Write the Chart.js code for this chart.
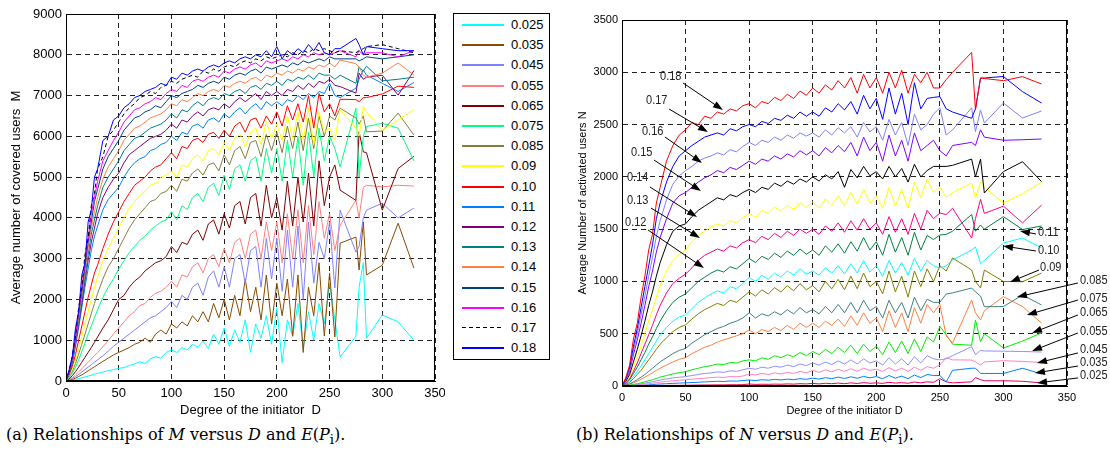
<!DOCTYPE html>
<html>
<head>
<meta charset="utf-8">
<script src="https://cdn.jsdelivr.net/npm/chart.js@4.4.0/dist/chart.umd.min.js"></script>
<style>
body { margin: 0; background: #fff; width: 1110px; height: 454px; position: relative; overflow: hidden; font-family: "Liberation Sans", Arial, sans-serif; }
#left { position: absolute; left: 0; top: 0; }
#right { position: absolute; left: 560px; top: 0; }
#legend { position: absolute; left: 453px; top: 13px; width: 95px; height: 345px; border: 1px solid #000; }
.item { position: absolute; left: 0; width: 95px; height: 20px; font-size: 13px; line-height: 20px; color: #000; }
.item .ln { position: absolute; left: 8px; top: 9px; width: 42px; height: 2px; }
.item .tx { position: absolute; left: 57px; top: 0; }
.cap { position: absolute; top: 425px; font-family: "DejaVu Serif", serif; font-size: 16px; color: #000; white-space: nowrap; }
</style>
</head>
<body>
<canvas id="left" width="445" height="420"></canvas>
<div id="legend"></div>
<canvas id="right" width="550" height="420"></canvas>
<div class="cap" style="left:6px">(a) Relationships of <i>M</i> versus <i>D</i> and <i>E</i>(<i>P</i><sub>i</sub>).</div>
<div class="cap" style="left:576px">(b) Relationships of <i>N</i> versus <i>D</i> and <i>E</i>(<i>P</i><sub>i</sub>).</div>
<script>
// degree of the initiator (x values shared by every curve)
const degrees = [0, 3, 6, 9, 12, 15, 18, 21, 24, 27, 30, 35, 40, 45,
  50, 55, 60, 65, 70, 75, 80, 85, 90, 95,
  100, 105, 110, 115, 120, 125, 130, 135, 140, 145,
  150, 155, 160, 165, 170, 175, 180, 185, 190, 195,
  200, 205, 210, 215, 220, 225, 230, 235, 240, 245,
  250, 255, 260, 275, 278, 282, 285, 300, 315, 330];

const probLabels = ['0.025', '0.035', '0.045', '0.055', '0.065', '0.075', '0.085', '0.09',
  '0.10', '0.11', '0.12', '0.13', '0.14', '0.15', '0.16', '0.17', '0.18'];

// (a) average number of covered users M
const m025 = [0, 10, 20, 40, 60, 80, 100, 120, 140, 170, 190, 220, 250, 280,
  310, 330, 380, 420, 470, 430, 540, 600, 560, 700,
  760, 700, 820, 760, 900, 830, 980, 800, 1150, 900,
  1300, 850, 1250, 950, 1500, 700, 1400, 1050, 1600, 900,
  1800, 450, 1500, 1100, 1900, 800, 1700, 1000, 1900, 1400,
  2400, 1500, 590, 1100, 2300, 2900, 1050, 1620, 1450, 1000];
const m035 = [0, 15, 40, 70, 110, 150, 200, 250, 300, 350, 400, 480, 560, 640,
  700, 760, 820, 900, 950, 1050, 950, 1150, 1250, 1150,
  1400, 1300, 1450, 1350, 1600, 1450, 1700, 1450, 1900, 1550,
  2000, 1500, 2100, 1600, 2500, 1700, 2300, 1500, 2600, 1400,
  2400, 1600, 2500, 1100, 2600, 700, 2300, 1600, 2900, 1100,
  2650, 1080, 3380, 3530, 2720, 3900, 2600, 2840, 3870, 2770];
const m045 = [0, 25, 60, 110, 160, 220, 280, 340, 400, 460, 520, 620, 730, 850,
  950, 1050, 1150, 1250, 1350, 1450, 1550, 1600, 1700, 1800,
  1950, 1800, 2100, 2000, 2300, 2400, 2100, 2550, 2700, 2300,
  2800, 2300, 3000, 3100, 2400, 3200, 3300, 2300, 3500, 2500,
  3500, 2200, 3700, 2300, 3800, 2000, 3900, 2400, 3400, 3000,
  3900, 2280, 4190, 3160, 3300, 4000, 4190, 4360, 4000, 4240];
const m055 = [0, 35, 80, 150, 220, 300, 380, 460, 540, 620, 700, 840, 990, 1150,
  1300, 1450, 1600, 1700, 1850, 1900, 2050, 2150, 2200, 2300,
  2450, 2300, 2600, 2550, 2800, 2900, 2650, 3000, 3100, 2800,
  3250, 2900, 3400, 3500, 3000, 3600, 3700, 3000, 3900, 3200,
  3900, 2900, 4100, 3000, 4200, 2900, 4300, 3100, 4400, 3500,
  4100, 3200, 3820, 4430, 4000, 4750, 4800, 4760, 4800, 4780];
const m065 = [0, 50, 130, 230, 340, 460, 580, 700, 820, 950, 1080, 1300, 1500, 1750,
  2000, 2100, 2300, 2450, 2550, 2700, 2800, 2900, 2950, 3050,
  3300, 3150, 3400, 3350, 3600, 3700, 3450, 3850, 3950, 3600,
  4100, 3750, 4300, 4400, 3850, 4500, 4600, 3800, 4800, 4000,
  4500, 3700, 4900, 3800, 5000, 3900, 5100, 3800, 5400, 4300,
  5000, 5300, 4680, 4430, 6110, 5620, 5600, 4190, 5210, 5510];
const m075 = [0, 80, 190, 340, 520, 720, 930, 1150, 1350, 1550, 1750, 2050, 2300, 2500,
  2750, 2950, 3150, 3300, 3450, 3550, 3700, 3800, 3900, 3950,
  4150, 3950, 4300, 4200, 4500, 4600, 4400, 4750, 4850, 4550,
  5050, 4700, 5200, 5300, 4900, 5400, 5500, 4900, 5700, 5100,
  5700, 4900, 5900, 5000, 6000, 4800, 6100, 5000, 6200, 5400,
  6000, 5700, 5250, 6690, 5000, 6000, 6240, 6320, 6200, 5400];
const m085 = [0, 100, 240, 430, 660, 900, 1150, 1400, 1650, 1900, 2150, 2500, 2800, 3000,
  3250, 3500, 3750, 3950, 4100, 4250, 4400, 4450, 4600, 4650,
  4800, 4650, 4950, 4900, 5100, 5200, 5050, 5300, 5350, 5150,
  5550, 5300, 5650, 5750, 5450, 5850, 5900, 5500, 6050, 5650,
  6100, 5600, 6250, 5700, 6350, 5650, 6450, 5700, 6500, 6000,
  6500, 6400, 6690, 6450, 6300, 6500, 6110, 6130, 6570, 6030];
const m09 = [0, 120, 290, 520, 800, 1100, 1400, 1700, 2000, 2300, 2550, 2950, 3250, 3500,
  3750, 4000, 4250, 4400, 4550, 4650, 4800, 4850, 5000, 5050,
  5150, 5000, 5300, 5250, 5450, 5550, 5400, 5650, 5700, 5550,
  5850, 5650, 5950, 6050, 5750, 6100, 6200, 5800, 6350, 5950,
  6300, 5900, 6500, 5950, 6600, 5900, 6700, 5800, 6600, 6100,
  6200, 5900, 6650, 6200, 6000, 6730, 6600, 6150, 6400, 6650];
const m10 = [0, 150, 360, 650, 1000, 1350, 1700, 2050, 2350, 2650, 2850, 3250, 3600, 3900,
  4150, 4400, 4600, 4800, 4900, 5000, 5150, 5250, 5300, 5450,
  5600, 5450, 5750, 5700, 5900, 5950, 5850, 6050, 6100, 5950,
  6150, 6000, 6250, 6350, 6100, 6400, 6450, 6200, 6500, 6300,
  6600, 6250, 6750, 6400, 6800, 6350, 7000, 6200, 7050, 6600,
  6800, 6500, 6910, 6900, 6850, 6950, 6950, 7040, 7230, 7200];
const m11 = [0, 180, 440, 850, 1300, 1800, 2300, 2750, 3200, 3550, 3800, 4200, 4450, 4600,
  4750, 5000, 5200, 5350, 5450, 5500, 5650, 5700, 5800, 5850,
  6000, 5900, 6100, 6050, 6250, 6300, 6200, 6400, 6450, 6350,
  6550, 6450, 6600, 6700, 6550, 6700, 6800, 6650, 6850, 6750,
  6850, 6750, 6900, 6850, 7000, 6900, 7050, 6950, 7100, 7050,
  7300, 7000, 6950, 7180, 7400, 7630, 7500, 7300, 7100, 7320];
const m12 = [0, 190, 470, 900, 1400, 1900, 2450, 2950, 3400, 3750, 4100, 4500, 4750, 4950,
  5100, 5350, 5550, 5650, 5750, 5850, 5950, 6000, 6050, 6150,
  6300, 6200, 6400, 6350, 6500, 6600, 6500, 6650, 6700, 6650,
  6800, 6700, 6850, 6950, 6850, 6950, 7050, 6900, 7100, 7000,
  7100, 7000, 7150, 7100, 7250, 7150, 7300, 7200, 7350, 7300,
  7400, 7250, 7220, 7060, 7550, 7400, 7450, 7500, 7010, 7610];
const m13 = [0, 200, 500, 950, 1450, 2000, 2550, 3100, 3600, 3950, 4300, 4750, 5000, 5200,
  5400, 5650, 5800, 5950, 6000, 6100, 6200, 6250, 6300, 6400,
  6550, 6450, 6650, 6600, 6750, 6850, 6750, 6900, 6950, 6900,
  7050, 7000, 7100, 7150, 7050, 7200, 7250, 7150, 7300, 7250,
  7350, 7250, 7400, 7350, 7450, 7400, 7500, 7400, 7550, 7500,
  7500, 7400, 7500, 7300, 7700, 7600, 7720, 7360, 7400, 7450];
const m14 = [0, 220, 540, 1000, 1550, 2100, 2700, 3250, 3750, 4150, 4500, 4950, 5250, 5450,
  5650, 5900, 6050, 6200, 6250, 6350, 6450, 6500, 6550, 6650,
  6800, 6750, 6900, 6850, 6950, 7050, 7000, 7100, 7150, 7100,
  7250, 7200, 7300, 7350, 7300, 7400, 7450, 7350, 7500, 7450,
  7550, 7500, 7600, 7550, 7650, 7600, 7700, 7650, 7750, 7700,
  7800, 7700, 7870, 7780, 7700, 7500, 7450, 7550, 7800, 7500];
const m15 = [0, 230, 560, 1050, 1650, 2200, 2800, 3400, 3900, 4400, 4700, 5200, 5500, 5700,
  5900, 6150, 6300, 6450, 6500, 6600, 6650, 6750, 6700, 6850,
  7000, 6950, 7050, 7100, 7150, 7250, 7200, 7300, 7350, 7300,
  7450, 7400, 7500, 7550, 7500, 7600, 7650, 7550, 7700, 7650,
  7700, 7750, 7700, 7800, 7750, 7850, 7800, 7850, 7900, 7850,
  7950, 7900, 7900, 7900, 7850, 7900, 7950, 7900, 7950, 8000];
const m16 = [0, 240, 580, 1100, 1700, 2300, 2900, 3500, 4100, 4500, 4900, 5400, 5650, 5900,
  6100, 6350, 6500, 6650, 6700, 6800, 6850, 6950, 6900, 7050,
  7150, 7100, 7250, 7200, 7350, 7400, 7350, 7450, 7500, 7450,
  7600, 7550, 7650, 7700, 7650, 7750, 7800, 7700, 7850, 7800,
  7850, 7900, 7850, 7950, 7900, 8000, 7950, 8050, 8000, 8050,
  8000, 8050, 8100, 7950, 8100, 8000, 8050, 8050, 7950, 8100];
const m17 = [0, 250, 620, 1100, 1800, 2300, 3100, 3500, 4300, 4600, 5200, 5500, 6000, 6150,
  6350, 6550, 6700, 6800, 6950, 7000, 7100, 7050, 7200, 7250,
  7350, 7300, 7400, 7450, 7500, 7450, 7600, 7550, 7650, 7600,
  7700, 7750, 7700, 7800, 7850, 7800, 7900, 7850, 7950, 7900,
  7950, 8000, 7950, 8050, 8000, 8100, 8050, 8150, 8100, 8150,
  8100, 8050, 8100, 8050, 8100, 8150, 8200, 8250, 8150, 8050];
const m18 = [0, 280, 600, 1300, 1700, 2600, 2900, 3900, 4200, 5000, 5200, 5900, 6000, 6400,
  6500, 6700, 6800, 6950, 7000, 7100, 7150, 7200, 7300, 7250,
  7450, 7400, 7550, 7500, 7600, 7650, 7600, 7700, 7750, 7700,
  7800, 7850, 7800, 7900, 7950, 7900, 8000, 7950, 8100, 7950,
  8200, 7900, 8100, 8000, 8150, 8050, 8250, 8100, 8300, 8050,
  8000, 8150, 8150, 8400, 8250, 8000, 8200, 8150, 8100, 8100];

// (b) average number of activated users N
const n025 = [0, 0, 1, 1, 2, 2, 3, 3, 4, 4, 5, 5, 6, 6,
  7, 8, 9, 10, 10, 11, 11, 12, 12, 13,
  19, 15, 17, 16, 18, 17, 20, 18, 22, 20,
  25, 20, 26, 22, 28, 22, 30, 24, 32, 26,
  30, 25, 35, 28, 32, 26, 38, 30, 40, 35,
  70, 40, 30, 40, 80, 60, 50, 50, 45, 30];
const n035 = [0, 1, 2, 3, 5, 7, 9, 11, 14, 17, 19, 22, 25, 28,
  30, 33, 36, 39, 42, 45, 43, 48, 46, 52,
  57, 52, 60, 56, 63, 58, 66, 60, 70, 64,
  75, 66, 80, 70, 85, 72, 88, 74, 92, 78,
  90, 70, 100, 75, 95, 70, 105, 80, 110, 100,
  100, 40, 150, 170, 170, 120, 120, 120, 170, 115];
const n045 = [0, 1, 3, 6, 9, 13, 17, 22, 27, 32, 37, 44, 50, 55,
  60, 65, 70, 75, 80, 85, 82, 90, 88, 95,
  115, 105, 120, 110, 125, 115, 130, 120, 140, 125,
  150, 130, 155, 135, 160, 140, 165, 140, 170, 150,
  160, 140, 175, 145, 170, 140, 180, 150, 185, 170,
  200, 270, 250, 248, 230, 200, 230, 242, 235, 225];
const n055 = [0, 2, 5, 10, 15, 20, 27, 34, 41, 49, 57, 67, 77, 84,
  90, 100, 110, 120, 125, 135, 130, 145, 140, 155,
  170, 160, 180, 170, 190, 180, 200, 185, 210, 195,
  220, 200, 230, 205, 240, 210, 250, 210, 260, 220,
  240, 200, 270, 210, 260, 200, 280, 220, 290, 260,
  250, 260, 290, 376, 300, 340, 335, 333, 330, 325];
const n065 = [0, 4, 8, 15, 22, 30, 40, 50, 60, 72, 85, 100, 115, 128,
  137, 155, 170, 185, 195, 210, 205, 225, 220, 240,
  250, 240, 270, 255, 290, 270, 300, 280, 320, 290,
  330, 300, 350, 310, 370, 320, 390, 310, 400, 330,
  380, 300, 420, 320, 430, 310, 450, 330, 470, 420,
  570, 490, 400, 390, 631, 424, 500, 363, 430, 507];
const n075 = [0, 8, 16, 30, 45, 65, 85, 105, 125, 150, 170, 200, 230, 255,
  270, 310, 340, 370, 390, 420, 440, 460, 480, 500,
  535, 500, 540, 520, 560, 530, 580, 540, 600, 560,
  600, 560, 620, 580, 640, 570, 670, 580, 700, 600,
  650, 520, 720, 560, 700, 520, 750, 600, 780, 700,
  780, 480, 411, 822, 700, 631, 720, 854, 760, 602];
const n085 = [0, 10, 20, 40, 60, 85, 110, 140, 170, 200, 230, 270, 310, 340,
  360, 410, 450, 490, 520, 550, 570, 600, 620, 650,
  700, 650, 690, 670, 710, 680, 730, 690, 750, 700,
  730, 690, 760, 700, 780, 700, 800, 700, 820, 720,
  760, 650, 820, 700, 800, 650, 850, 720, 830, 800,
  800, 880, 890, 937, 900, 860, 758, 760, 870, 775];
const n09 = [0, 15, 35, 70, 110, 150, 200, 250, 300, 350, 400, 460, 520, 560,
  585, 640, 690, 730, 760, 790, 770, 820, 800, 850,
  900, 860, 920, 880, 940, 900, 960, 910, 980, 920,
  960, 900, 1000, 930, 1020, 920, 1050, 930, 1080, 950,
  1000, 880, 1100, 900, 1050, 850, 1100, 950, 1120, 1000,
  1150, 1100, 1224, 1109, 1000, 937, 1109, 1000, 997, 1080];
const n10 = [0, 20, 45, 90, 140, 190, 250, 310, 370, 430, 490, 560, 620, 660,
  680, 740, 800, 840, 880, 910, 890, 950, 930, 980,
  1040, 1000, 1060, 1020, 1080, 1040, 1100, 1060, 1120, 1070,
  1100, 1060, 1130, 1080, 1150, 1070, 1170, 1080, 1200, 1090,
  1150, 1050, 1200, 1080, 1180, 1060, 1220, 1100, 1200, 1150,
  1128, 1150, 1205, 1300, 1330, 1170, 1200, 1367, 1416, 1320];
const n11 = [0, 25, 60, 120, 180, 250, 320, 400, 470, 550, 620, 720, 800, 850,
  880, 940, 1000, 1040, 1080, 1110, 1090, 1140, 1120, 1170,
  1220, 1180, 1240, 1210, 1270, 1230, 1290, 1250, 1310, 1260,
  1300, 1250, 1340, 1280, 1360, 1270, 1380, 1290, 1420, 1300,
  1380, 1250, 1450, 1280, 1420, 1250, 1470, 1300, 1440, 1400,
  1444, 1450, 1480, 1640, 1480, 1540, 1500, 1620, 1496, 1530];
const n12 = [0, 30, 70, 140, 220, 310, 400, 490, 580, 680, 770, 890, 980, 1030,
  1070, 1130, 1200, 1250, 1280, 1310, 1290, 1340, 1320, 1370,
  1400, 1370, 1430, 1400, 1460, 1420, 1480, 1440, 1500, 1460,
  1500, 1450, 1530, 1480, 1560, 1470, 1580, 1490, 1600, 1500,
  1560, 1450, 1620, 1470, 1600, 1450, 1650, 1500, 1680, 1600,
  1654, 1640, 1700, 1415, 1600, 1785, 1650, 1720, 1560, 1730];
const n13 = [0, 40, 90, 180, 280, 390, 500, 620, 730, 850, 960, 1100, 1200, 1260,
  1300, 1380, 1440, 1480, 1520, 1550, 1530, 1580, 1560, 1610,
  1650, 1610, 1680, 1650, 1710, 1670, 1730, 1690, 1750, 1710,
  1760, 1700, 1790, 1730, 1820, 1720, 1850, 1740, 1880, 1750,
  1820, 1700, 1900, 1720, 1880, 1700, 1950, 1800, 1980, 1850,
  1906, 1800, 1850, 1940, 1800, 1950, 1900, 1750, 1840, 1950];
const n14 = [0, 45, 110, 230, 350, 480, 620, 770, 900, 1050, 1180, 1350, 1480, 1530,
  1550, 1620, 1680, 1720, 1760, 1800, 1780, 1830, 1810, 1850,
  1880, 1850, 1900, 1880, 1940, 1910, 1960, 1930, 1980, 1950,
  2000, 1960, 2020, 1980, 2050, 1900, 2070, 1990, 2100, 2010,
  2050, 1980, 2100, 2000, 2080, 1950, 2120, 2000, 2060, 2100,
  2100, 2100, 2110, 2170, 2000, 2170, 1846, 2050, 2145, 1954];
const n15 = [0, 55, 140, 300, 440, 600, 770, 950, 1100, 1280, 1420, 1600, 1750, 1820,
  1850, 1900, 1950, 1990, 2020, 2060, 2040, 2090, 2070, 2110,
  2150, 2120, 2170, 2150, 2200, 2170, 2220, 2190, 2250, 2210,
  2250, 2200, 2280, 2230, 2300, 2240, 2330, 2200, 2380, 2250,
  2330, 2150, 2400, 2200, 2350, 2150, 2420, 2250, 2300, 2350,
  2250, 2200, 2300, 2330, 2300, 2450, 2380, 2350, 2355, 2362];
const n16 = [0, 60, 160, 340, 500, 680, 860, 1050, 1230, 1430, 1580, 1780, 1930, 2010,
  2060, 2100, 2150, 2180, 2200, 2230, 2210, 2260, 2240, 2290,
  2330, 2300, 2350, 2330, 2380, 2350, 2400, 2370, 2420, 2390,
  2420, 2380, 2450, 2400, 2470, 2420, 2480, 2380, 2520, 2430,
  2480, 2350, 2550, 2400, 2520, 2300, 2600, 2450, 2500, 2600,
  2660, 2400, 2450, 2660, 2432, 2640, 2515, 2706, 2563, 2630];
const n17 = [0, 70, 180, 380, 550, 750, 950, 1150, 1350, 1600, 1750, 1950, 2100, 2200,
  2250, 2300, 2340, 2380, 2400, 2420, 2400, 2460, 2440, 2480,
  2500, 2480, 2530, 2510, 2560, 2540, 2590, 2560, 2620, 2580,
  2620, 2580, 2660, 2620, 2700, 2640, 2720, 2600, 2780, 2650,
  2750, 2550, 2850, 2600, 2800, 2500, 2900, 2650, 2750, 2760,
  2767, 2650, 2620, 2560, 2650, 2945, 2945, 2960, 2815, 2706];
const n18 = [0, 80, 200, 450, 600, 850, 1050, 1300, 1450, 1750, 1900, 2150, 2300, 2400,
  2450, 2520, 2500, 2580, 2560, 2620, 2600, 2650, 2630, 2680,
  2700, 2660, 2720, 2700, 2760, 2730, 2790, 2750, 2820, 2780,
  2850, 2800, 2880, 2830, 2920, 2850, 2950, 2800, 2980, 2850,
  2950, 2800, 3000, 2850, 3020, 2800, 2980, 2900, 3000, 2850,
  2850, 2930, 3000, 3190, 2640, 2945, 2940, 2920, 2958, 2888];

const coveredSeries = [m025, m035, m045, m055, m065, m075, m085, m09, m10, m11, m12, m13, m14, m15, m16, m17, m18];
const activatedSeries = [n025, n035, n045, n055, n065, n075, n085, n09, n10, n11, n12, n13, n14, n15, n16, n17, n18];

const coveredColors = ['#00ffff', '#8b4a00', '#8080ff', '#ff8080', '#800000', '#00ff80', '#808040', '#ffff00',
  '#ff0000', '#0080ff', '#800080', '#008080', '#ff8040', '#004080', '#ff00ff', '#000000', '#0000ff'];
const activatedColors = ['#e6005c', '#0080ff', '#ff80c0', '#9090ff', '#00ee00', '#ff8040', '#408080', '#808000',
  '#00ffff', '#008040', '#ff0080', '#ffff00', '#000000', '#8000ff', '#8080ff', '#0000ff', '#ff0000'];

// arrow notes of panel (b): label anchor, arrow start, arrow tip (data units)
const arrowNotes = [
  { text: '0.18', at: [29.9, 2964], from: [48.0, 2898], to: [79.4, 2639] },
  { text: '0.17', at: [18.9, 2725], from: [37.0, 2649], to: [67.6, 2429] },
  { text: '0.16', at: [15.7, 2429], from: [33.8, 2381], to: [62.9, 2133] },
  { text: '0.15', at: [7.1, 2228], from: [25.2, 2161], to: [62.1, 1865] },
  { text: '0.14', at: [3.9, 1989], from: [22.0, 1903], to: [59.0, 1616] },
  { text: '0.13', at: [3.9, 1769], from: [22.8, 1702], to: [61.3, 1415] },
  { text: '0.12', at: [2.4, 1559], from: [20.4, 1492], to: [64.5, 1128] },
  { text: '0.11', at: [327.2, 1463], from: [325.6, 1454], to: [313.0, 1482] },
  { text: '0.10', at: [327.2, 1291], from: [325.6, 1291], to: [299.7, 1339] },
  { text: '0.09', at: [328.8, 1128], from: [328.0, 1109], to: [305.2, 995] },
  { text: '0.085', at: [360.2, 1004], from: [358.6, 985], to: [310.7, 851] },
  { text: '0.075', at: [360.2, 832], from: [358.6, 822], to: [318.5, 679] },
  { text: '0.065', at: [360.2, 698], from: [358.6, 679], to: [322.5, 507] },
  { text: '0.055', at: [360.2, 516], from: [358.6, 507], to: [322.5, 335] },
  { text: '0.045', at: [360.2, 344], from: [358.6, 316], to: [326.4, 220] },
  { text: '0.035', at: [360.2, 220], from: [358.6, 191], to: [324.8, 124] },
  { text: '0.025', at: [360.2, 96], from: [358.6, 77], to: [326.4, 29] }
];

function makeDatasets(series, colors, dashedIndex) {
  let sets = series.map((vals, i) => ({
    label: probLabels[i],
    data: vals.map((v, k) => ({ x: degrees[k], y: v })),
    borderColor: colors[i],
    borderWidth: 1,
    borderDash: i === dashedIndex ? [4, 3] : [],
    pointRadius: 0,
    tension: 0,
    fill: false
  }));
  return sets.reverse();
}

const boxPlugin = {
  id: 'box',
  afterDraw(chart) {
    const a = chart.chartArea, c = chart.ctx;
    c.save();
    c.strokeStyle = '#000';
    c.lineWidth = 1;
    c.setLineDash([]);
    c.strokeRect(Math.round(a.left) + 0.5, Math.round(a.top) + 0.5,
      Math.round(a.right - a.left) - 1, Math.round(a.bottom - a.top) - 1);
    c.restore();
  }
};

const arrowPlugin = {
  id: 'arrows',
  afterDraw(chart) {
    const xs = chart.scales.x, ys = chart.scales.y, c = chart.ctx;
    c.save();
    c.strokeStyle = '#000';
    c.fillStyle = '#000';
    c.lineWidth = 1;
    arrowNotes.forEach(a => {
      const x1 = xs.getPixelForValue(a.from[0]), y1 = ys.getPixelForValue(a.from[1]);
      const x2 = xs.getPixelForValue(a.to[0]), y2 = ys.getPixelForValue(a.to[1]);
      const ang = Math.atan2(y2 - y1, x2 - x1);
      const cs = Math.cos(ang), sn = Math.sin(ang);
      c.beginPath();
      c.moveTo(x1, y1);
      c.lineTo(x2 - 6 * cs, y2 - 6 * sn);
      c.stroke();
      c.beginPath();
      c.moveTo(x2, y2);
      c.lineTo(x2 - 10 * cs + 3.5 * sn, y2 - 10 * sn - 3.5 * cs);
      c.lineTo(x2 - 10 * cs - 3.5 * sn, y2 - 10 * sn + 3.5 * cs);
      c.closePath();
      c.fill();
      // narrow label text
      c.save();
      c.translate(xs.getPixelForValue(a.at[0]), ys.getPixelForValue(a.at[1]));
      c.scale(0.88, 1);
      c.font = '12.5px "Liberation Sans", Arial';
      c.textBaseline = 'middle';
      c.textAlign = 'left';
      c.fillStyle = '#222';
      c.fillText(a.text, 0, 0);
      c.restore();
    });
    c.restore();
  }
};

function axes(yMax, yStep, xTitle, yTitle, size, yWidth, xHeight, yTitlePad, xTitlePad) {
  const font = { family: '"Liberation Sans", Arial, sans-serif', size: size };
  const grid = { color: '#222', lineWidth: 1, drawTicks: false };
  const border = { display: true, color: '#000', width: 1, dash: [5, 4] };
  const plain = v => String(v);
  return {
    x: {
      type: 'linear', min: 0, max: 350,
      ticks: { stepSize: 50, color: '#000', font: font, padding: 5, maxRotation: 0, callback: plain },
      grid: grid, border: border,
      title: { display: true, text: xTitle, color: '#000', font: font, padding: { top: 0, bottom: xTitlePad } },
      afterFit: s => { s.height = xHeight; s.paddingLeft = 0; s.paddingRight = 0; }
    },
    y: {
      type: 'linear', min: 0, max: yMax,
      ticks: { stepSize: yStep, color: '#000', font: font, padding: 4, callback: plain },
      grid: grid, border: border,
      title: { display: true, text: yTitle, color: '#000', font: font, padding: { top: yTitlePad, bottom: 0 } },
      afterFit: s => { s.width = yWidth; s.paddingTop = 0; s.paddingBottom = 0; }
    }
  };
}

new Chart(document.getElementById('left'), {
  type: 'line',
  data: { datasets: makeDatasets(coveredSeries, coveredColors, 15) },
  options: {
    responsive: false, animation: false, devicePixelRatio: 1,
    layout: { padding: { left: 0, top: 14, right: 10, bottom: 0 } },
    plugins: { legend: { display: false }, tooltip: { enabled: false } },
    scales: axes(9000, 1000, 'Degree of the initiator  D', 'Average number of covered users  M', 13, 66, 39, 9, 2)
  },
  plugins: [boxPlugin]
});

new Chart(document.getElementById('right'), {
  type: 'line',
  data: { datasets: makeDatasets(activatedSeries, activatedColors, -1) },
  options: {
    responsive: false, animation: false, devicePixelRatio: 1,
    layout: { padding: { left: 0, top: 20, right: 43, bottom: 0 } },
    plugins: { legend: { display: false }, tooltip: { enabled: false } },
    scales: axes(3500, 500, 'Degree of the initiator D', 'Average Number of activated users N', 11, 62, 34, 16, 2)
  },
  plugins: [boxPlugin, arrowPlugin]
});

// legend of panel (a)
const legend = document.getElementById('legend');
probLabels.forEach((p, i) => {
  const item = document.createElement('div');
  item.className = 'item';
  item.style.top = (1 + i * 20.2) + 'px';
  const ln = document.createElement('span');
  ln.className = 'ln';
  if (i === 15) {
    ln.style.height = '1px';
    ln.style.background = 'repeating-linear-gradient(90deg, #000 0 4px, transparent 4px 7px)';
  } else {
    ln.style.background = coveredColors[i];
  }
  const tx = document.createElement('span');
  tx.className = 'tx';
  tx.textContent = p;
  item.appendChild(ln);
  item.appendChild(tx);
  legend.appendChild(item);
});
</script>
</body>
</html>
